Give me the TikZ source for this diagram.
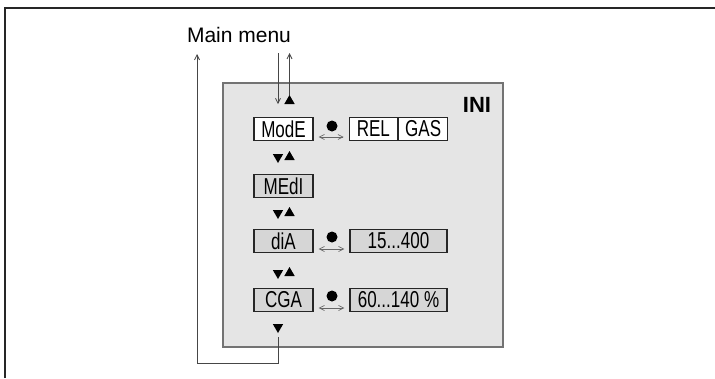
\documentclass[tikz,border=0pt]{standalone}
\usepackage{graphicx}
\usepackage{fontspec}
\setmainfont{Liberation Sans}
\usetikzlibrary{arrows.meta,shapes.geometric}

\definecolor{panelgray}{RGB}{229,229,229}
\definecolor{boxgray}{RGB}{214,214,214}
\definecolor{linegray}{RGB}{70,70,70}

\newcommand{\nrw}[1]{\scalebox{0.74}[1]{#1}}

\begin{document}
\begin{tikzpicture}[x=1pt,y=-1pt]
	\tikzstyle{every node}=[inner sep=0pt]
	\tikzstyle{menubox}=[draw=black!85, line width=1.3pt, minimum width=59pt, minimum height=23pt, font=\fontsize{23}{23}\selectfont]
	\tikzstyle{valbox}=[menubox, minimum width=97pt]
	\tikzstyle{dot}=[circle, fill=black, minimum size=11pt]
	\tikzstyle{triup}=[regular polygon, regular polygon sides=3, fill=black, minimum size=12pt]
	\tikzstyle{tridown}=[triup, shape border rotate=180]
	\tikzstyle{arr}=[linegray, line width=0.8pt, -{Straight Barb[length=5pt,width=5pt]}]
	\tikzstyle{swap}=[black!60, line width=0.7pt, {Straight Barb[length=5pt,width=5pt]}-{Straight Barb[length=5pt,width=5pt]}]

	\useasboundingbox (0,0) rectangle (715,378);

	%% frame and panel
	\draw [line width=2pt, black!85]  (5,378) -- (5,8) -- (715,8);
	\draw [fill=panelgray, draw=black!55, line width=1.5pt]  (223,83) rectangle (503,347);

	\node [font=\fontsize{21}{21}\selectfont, anchor=base] (mainmenu) at (239,42) {Main menu};
	\node [font=\bfseries\fontsize{22}{22}\selectfont] (ini) at (477,105) {INI};

	%% menu column
	\node [menubox, fill=white] (mode) at (283.5,129) {\nrw{ModE}};
	\node [menubox, fill=boxgray] (medi) at (283.5,186) {\nrw{MEdI}};
	\node [menubox, fill=boxgray] (dia) at (283.5,241) {\nrw{diA}};
	\node [menubox, fill=boxgray] (cga) at (283.5,300) {\nrw{CGA}};

	%% values
	\node [menubox, fill=white, minimum width=48pt, anchor=east] (rel) at (398,129) {\nrw{REL}};
	\node [menubox, fill=white, minimum width=49pt, anchor=west] (gas) at (398,129) {\nrw{GAS}};
	\node [valbox, fill=boxgray] (diaval) at (398.5,241) {\nrw{15...400}};
	\node [valbox, fill=boxgray] (cgaval) at (398.5,300) {\nrw{60...140 \%}};

	\node [dot] (dotmode) at (332,126) {};
	\node [dot] (dotdia) at (332,237) {};
	\node [dot] (dotcga) at (332,296) {};

	\draw [swap]  ([xshift=5pt,yshift=-8pt]mode.east) -- ([xshift=-5pt,yshift=-8pt]rel.west);
	\draw [swap]  ([xshift=5pt,yshift=-8pt]dia.east) -- ([xshift=-5pt,yshift=-8pt]diaval.west);
	\draw [swap]  ([xshift=5pt,yshift=-8pt]cga.east) -- ([xshift=-5pt,yshift=-8pt]cgaval.west);

	%% triangles
	\node [triup] (up0) at (289.5,101) {};
	\node [tridown] (dn1) at (278,157) {};
	\node [triup] (up1) at (289.5,157) {};
	\node [tridown] (dn2) at (278,213) {};
	\node [triup] (up2) at (289.5,213) {};
	\node [tridown] (dn3) at (278,273) {};
	\node [triup] (up3) at (289.5,273) {};
	\node [tridown] (dn4) at (278,327) {};

	%% arrows to and from the main menu
	\coordinate (mmin) at (278,53);
	\coordinate (mmout) at (197,54);
	\coordinate (loop) at (197,363);
	\draw [arr]  (mmin) -- (mmin |- up0.south);
	\draw [arr]  (up0.north) -- (up0.north |- mmin);
	\draw [arr]  ([yshift=-4pt]dn4.south) |- (loop) -- (mmout);

\end{tikzpicture}
\end{document}
